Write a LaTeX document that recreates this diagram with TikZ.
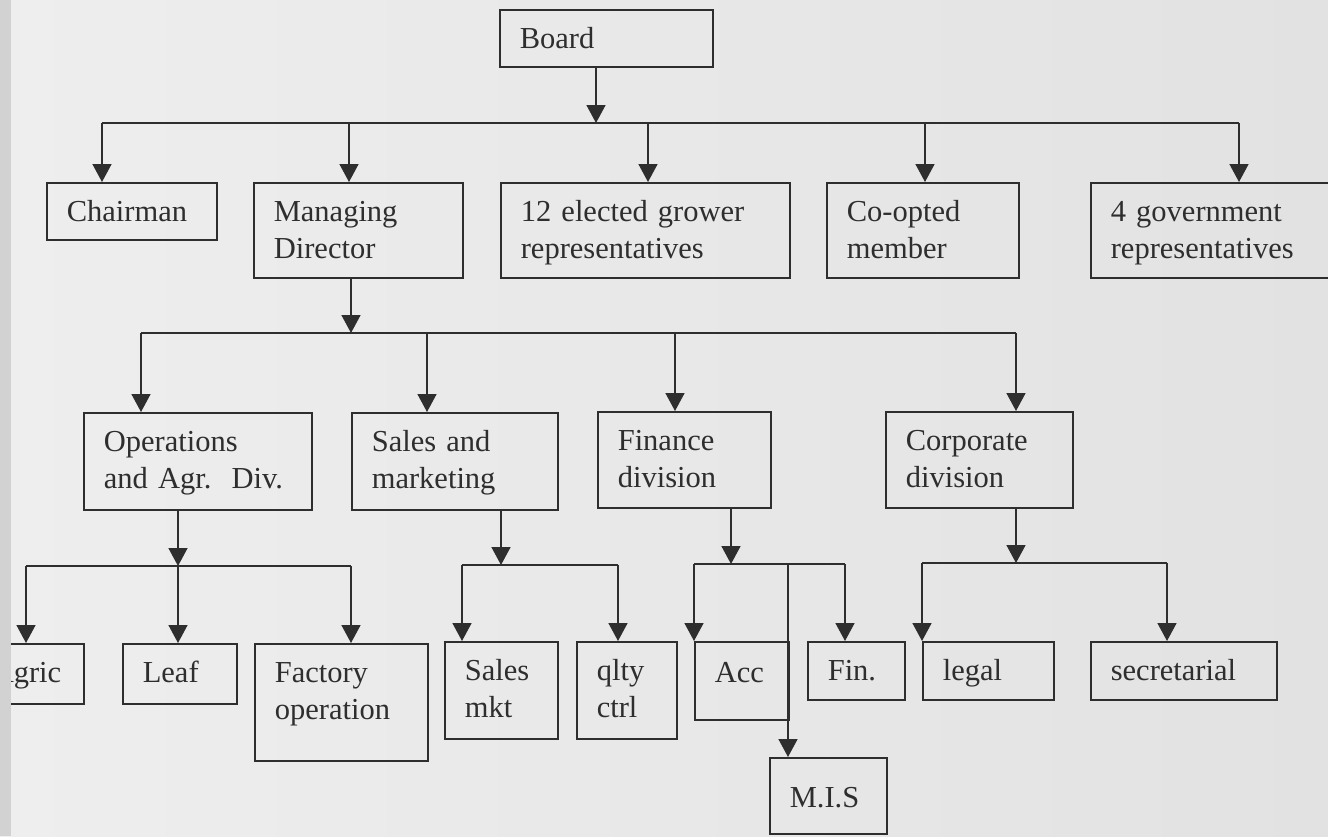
\documentclass[tikz,border=0pt]{standalone}
\usepackage{fontspec}
\setmainfont{Liberation Serif}
\usetikzlibrary{arrows.meta}
\definecolor{ocink}{HTML}{2E2E2E}
\definecolor{ocpaper}{HTML}{E2E2E2}
\definecolor{ocpaperlight}{HTML}{EEEEEE}
\definecolor{ocstrip}{HTML}{D2D2D2}
\tikzset{
  ocbox/.style={draw=ocink, line width=0.8pt, anchor=north west, align=left, text=ocink,
                inner xsep=10pt, inner ysep=0pt, text height=19.5pt,
                font=\fontsize{15.25}{18.5}\selectfont},
  ocarrow/.style={-{Triangle[width=9.5pt,length=9pt]}, line width=0.8pt, draw=ocink},
  ocline/.style={line width=0.8pt, draw=ocink},
}
\begin{document}
\begin{tikzpicture}[x=0.5pt, y=-0.5pt]
  \useasboundingbox (0,0) rectangle (1328,836);
  \shade[left color=ocpaperlight, right color=ocpaper] (0,0) rectangle (1328,836);
  % board and its members
  \node[ocbox, text width=86.5pt, text depth=9pt] (board) at (499,9) {Board};
  \node[ocbox, text width=65pt, text depth=9pt] (chair) at (46,182) {Chairman};
  \node[ocbox, text width=84.5pt, text depth=28pt] (md) at (253,182) {Managing\\Director};
  \node[ocbox, text width=124.5pt, text depth=28pt] (grow) at (500,182) {12 elected grower\\representatives};
  \node[ocbox, text width=76pt, text depth=28pt] (coopt) at (826,182) {Co-opted\\member};
  \node[ocbox, text width=110pt, text depth=28pt] (gov) at (1090,182) {4 government\\representatives};
  % divisions
  \node[ocbox, text width=94pt, text depth=29pt] (ops) at (83,412) {Operations\\and Agr.~~Div.};
  \node[ocbox, text width=83pt, text depth=29pt] (sales) at (351,412) {Sales and\\marketing};
  \node[ocbox, text width=66.5pt, text depth=28.5pt] (fin) at (597,411) {Finance\\division};
  \node[ocbox, text width=73.5pt, text depth=28.5pt] (corp) at (885,411) {Corporate\\division};
  % sections
  \node[ocbox, text width=36pt, text depth=10.5pt] (agric) at (-29,643) {Agric};
  \node[ocbox, text width=37pt, text depth=10.5pt] (leaf) at (122,643) {Leaf};
  \node[ocbox, text width=66.5pt, text depth=39pt] (fact) at (254,643) {Factory\\operation};
  \node[ocbox, text width=36.5pt, text depth=29pt] (smkt) at (444,641) {Sales\\mkt};
  \node[ocbox, text width=30pt, text depth=29pt] (qlty) at (576,641) {qlty\\ctrl};
  \node[ocbox, text width=27pt, text height=20.5pt, text depth=18.5pt] (acc) at (694,641) {Acc};
  \node[ocbox, text width=28.5pt, text depth=9.5pt] (finb) at (807,641) {Fin.};
  \node[ocbox, text width=45.5pt, text depth=9.5pt] (legal) at (922,641) {legal};
  \node[ocbox, text width=73pt, text depth=9.5pt] (secr) at (1090,641) {secretarial};
  \node[ocbox, text width=38.5pt, text height=25pt, text depth=13pt] (mis) at (769,757) {M.I.S};
  % knees of the buses
  \coordinate (kboard) at (596,123);
  \coordinate (kchair) at (102,123);
  \coordinate (kmd) at (349,123);
  \coordinate (kgrow) at (648,123);
  \coordinate (kcoopt) at (925,123);
  \coordinate (kgov) at (1239,123);
  \coordinate (kmdbus) at (351,333);
  \coordinate (kops) at (141,333);
  \coordinate (ksales) at (427,333);
  \coordinate (kfin) at (675,333);
  \coordinate (kcorp) at (1016,333);
  \coordinate (kopsbus) at (178,566);
  \coordinate (kagric) at (26,566);
  \coordinate (kfact) at (351,566);
  \coordinate (ksalesbus) at (501,565);
  \coordinate (ksmkt) at (462,565);
  \coordinate (kqlty) at (618,565);
  \coordinate (kfinbus) at (731,564);
  \coordinate (kacc) at (694,564);
  \coordinate (kmis) at (788,564);
  \coordinate (kfinb) at (845,564);
  \coordinate (kcorpbus) at (1016,563);
  \coordinate (klegal) at (922,563);
  \coordinate (ksecr) at (1167,563);
  % board level
  \draw[ocarrow] (board.south -| kboard) -- (kboard);
  \draw[ocline] (kchair) -- (kgov);
  \draw[ocarrow] (kchair) -- (kchair |- chair.north);
  \draw[ocarrow] (kmd) -- (kmd |- md.north);
  \draw[ocarrow] (kgrow) -- (kgrow |- grow.north);
  \draw[ocarrow] (kcoopt) -- (kcoopt |- coopt.north);
  \draw[ocarrow] (kgov) -- (kgov |- gov.north);
  % managing director level
  \draw[ocarrow] (md.south -| kmdbus) -- (kmdbus);
  \draw[ocline] (kops) -- (kcorp);
  \draw[ocarrow] (kops) -- (kops |- ops.north);
  \draw[ocarrow] (ksales) -- (ksales |- sales.north);
  \draw[ocarrow] (kfin) -- (kfin |- fin.north);
  \draw[ocarrow] (kcorp) -- (kcorp |- corp.north);
  % division level
  \draw[ocarrow] (ops.south -| kopsbus) -- (kopsbus);
  \draw[ocline] (kagric) -- (kfact);
  \draw[ocarrow] (kagric) -- (kagric |- agric.north);
  \draw[ocarrow] (kopsbus) -- (kopsbus |- leaf.north);
  \draw[ocarrow] (kfact) -- (kfact |- fact.north);
  \draw[ocarrow] (sales.south -| ksalesbus) -- (ksalesbus);
  \draw[ocline] (ksmkt) -- (kqlty);
  \draw[ocarrow] (ksmkt) -- (ksmkt |- smkt.north);
  \draw[ocarrow] (kqlty) -- (kqlty |- qlty.north);
  \draw[ocarrow] (fin.south -| kfinbus) -- (kfinbus);
  \draw[ocline] (kacc) -- (kfinb);
  \draw[ocarrow] (kacc) -- (kacc |- acc.north);
  \draw[ocarrow] (kfinb) -- (kfinb |- finb.north);
  \draw[ocarrow] (kmis) -- (kmis |- mis.north);
  \draw[ocarrow] (corp.south -| kcorpbus) -- (kcorpbus);
  \draw[ocline] (klegal) -- (ksecr);
  \draw[ocarrow] (klegal) -- (klegal |- legal.north);
  \draw[ocarrow] (ksecr) -- (ksecr |- secr.north);
  % scanner edge
  \fill[ocstrip] (0,0) rectangle (11,836);
\end{tikzpicture}
\end{document}
